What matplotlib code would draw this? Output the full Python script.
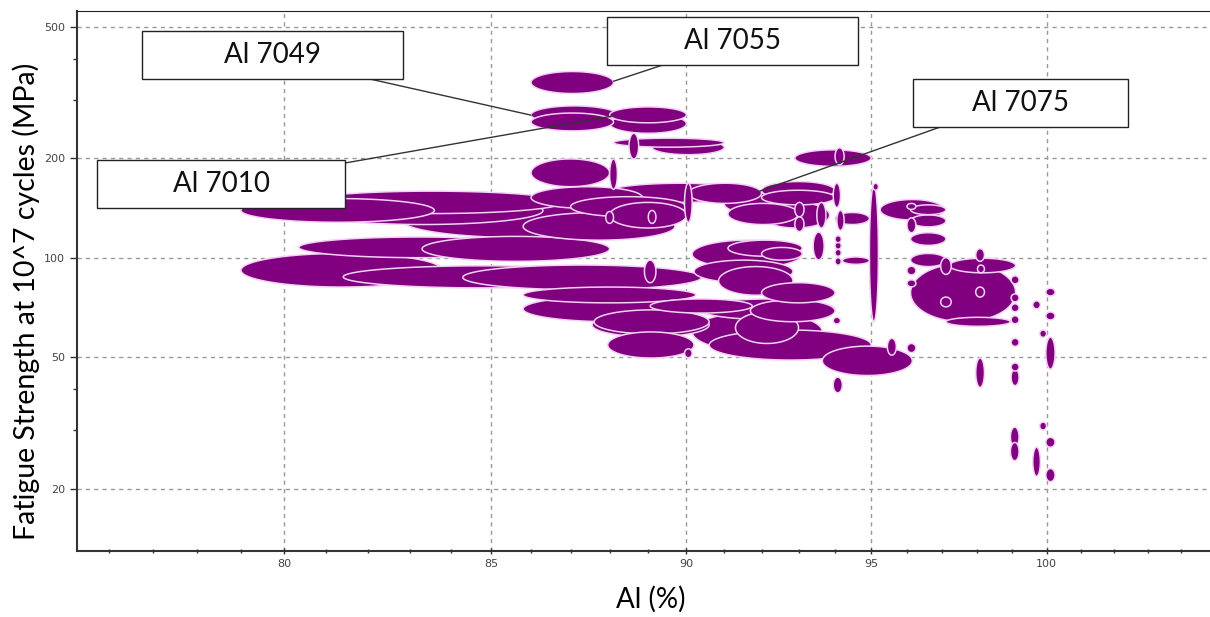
import numpy as np
import matplotlib
matplotlib.use('Agg')
import matplotlib.pyplot as plt
from matplotlib.patches import Rectangle

# material property ranges: Al content (%) and fatigue strength at 10^7 cycles (MPa)
al_lo = [86.0, 86.0, 86.0, 88.0, 88.0, 88.1, 89.1, 88.5, 86.0, 88.0, 92.9, 94.0,
         80.4, 79.0, 80.4, 82.8, 85.8, 86.0, 87.9, 87.0, 88.0, 87.9, 89.0, 89.95,
         90.05, 92.0, 91.0, 92.0, 91.1, 92.0, 92.9, 92.9, 93.5, 93.95, 94.05, 94.0,
         94.0, 94.0, 94.0, 94.0, 94.2, 94.95, 95.05, 95.25, 96.0, 96.1, 96.1, 96.0, 96.1,
         96.1, 96.1, 96.95, 97.2, 97.95, 98.0, 97.1, 96.95, 97.95, 96.0, 96.0,
         98.97, 98.97, 98.97, 98.97, 98.97, 98.97, 98.97, 99.6, 99.98, 99.98, 99.8,
         99.98, 97.95, 95.45, 96.0, 98.95, 98.95, 99.6, 99.98, 99.8, 99.98,
         93.65, 93.95, 93.95, 89.95,
         90.15, 91.1, 92.0, 93.4, 90.2, 90.85, 92.0, 90.35, 91.7, 90.15, 91.3, 90.6,
         80.35, 83.3, 79.0, 81.4, 84.3, 88.9, 85.8, 85.8, 87.55, 87.6, 87.95, 89.05]
al_hi = [88.1, 88.2, 88.1, 90.0, 90.0, 91.0, 91.0, 88.75, 88.0, 88.2, 95.0, 94.25,
         86.8, 83.6, 86.3, 88.85, 89.7, 88.85, 91.8, 90.0, 90.0, 88.1, 89.2, 90.15,
         92.0, 94.0, 93.0, 94.0, 93.0, 93.85, 93.15, 93.15, 93.75, 94.15, 94.25, 94.95,
         94.17, 94.17, 94.17, 94.17, 94.95, 95.2, 95.2, 97.05, 96.25, 97.1, 97.1, 96.25, 97.1,
         99.1, 97.1, 97.25, 99.1, 98.2, 98.2, 98.95, 97.25, 98.2, 96.25, 96.25,
         99.2, 99.2, 99.2, 99.2, 99.2, 99.2, 99.2, 99.82, 100.25, 100.25, 100.0,
         100.25, 98.2, 95.7, 96.25, 99.2, 99.2, 99.82, 100.25, 100.0, 100.25,
         96.15, 94.15, 94.2, 90.15,
         93.1, 93.1, 93.1, 93.7, 92.85, 92.85, 94.0, 94.0, 94.0, 93.65, 93.0, 95.0,
         86.2, 88.0, 83.8, 88.35, 90.4, 89.2, 90.25, 90.4, 90.6, 90.6, 90.2, 91.75]
fs_lo = [314, 254, 242, 256, 238, 216, 205, 199, 164, 161, 189, 191,
         136, 128, 126, 115, 113, 141, 147, 133, 123, 127, 127, 128,
         146, 150, 135, 144.5, 126, 123, 133, 120, 123, 142, 121, 126,
         111, 106, 101, 95, 95.5, 64, 160, 130, 140, 135, 124, 119, 109,
         64, 94, 89, 90, 97.5, 90, 62, 71, 76, 88.7, 81.6,
         83.3, 73.5, 68.6, 63.1, 53.9, 45.4, 41, 70, 76.6, 64.8, 57.4,
         46, 40.5, 50.7, 51.6, 26.8, 24.3, 21.8, 26.7, 30.1, 21.0,
         44, 63, 39, 49.8,
         93, 101, 98.3, 98.5, 84, 77, 73, 65, 64, 52, 55, 49,
         100, 97.5, 81.5, 81, 80, 84, 73, 64, 57.6, 58.8, 49.7, 68]
fs_hi = [366, 288, 274, 286, 272, 230, 227, 238, 199, 199, 212, 215,
         159, 151, 153, 147, 137, 164, 168, 153, 147, 138, 139, 168,
         168, 170, 157, 160, 146, 147, 147, 133, 147, 168, 139, 137,
         116.5, 111.5, 106, 100, 100.5, 166, 168, 150, 146, 144.5, 134.7, 132, 119,
         96, 103, 100, 99.6, 106.5, 95, 66, 76, 81.5, 94.2, 85.7,
         88.1, 77.7, 72.5, 66.7, 57, 48.0, 46, 74, 80.8, 68.5, 60.4,
         57.5, 49.7, 57, 55, 30.7, 27.6, 26.7, 28.6, 31.8, 23.0,
         54, 66, 43.5, 53,
         113, 113, 107.4, 119.5, 98.3, 94, 84, 75, 74.5, 68.5, 68.5, 60.4,
         115.5, 116, 103, 94.5, 95, 98.3, 81.5, 76.5, 68, 69.5, 59.6, 75]

labels = ['Al 7049', 'Al 7055', 'Al 7010', 'Al 7075']
label_al = [86.0, 88.1, 88.05, 91.95]
label_fs = [270, 342, 268, 159]

x_major = [80, 85, 90, 95, 100]
y_major = [20, 50, 100, 200, 500]
y_minor = [30, 40, 300, 400]

fig = plt.figure(figsize=(12.1, 6.17), dpi=100)
ax = fig.add_axes([77 / 1210, 1 - 551 / 617, 1133 / 1210, 540 / 617])
ax.set_xscale('log')
ax.set_yscale('log')
ax.set_xlim(75.3, 104.9)
ax.set_ylim(12.95, 558)

# ellipses are drawn in log space so they look like the bubble plot
t = np.linspace(0, 2 * np.pi, 120)
lx0, lx1 = np.log(al_lo), np.log(al_hi)
ly0, ly1 = np.log(fs_lo), np.log(fs_hi)
area = (lx1 - lx0) * (ly1 - ly0)
for i in np.argsort(-area):
    cx, rx = (lx0[i] + lx1[i]) / 2, (lx1[i] - lx0[i]) / 2
    cy, ry = (ly0[i] + ly1[i]) / 2, (ly1[i] - ly0[i]) / 2
    ax.fill(np.exp(cx + rx * np.cos(t)), np.exp(cy + ry * np.sin(t)),
            fc='#800080', ec='#f3d2f3', lw=1.1, zorder=2)

ax.set_xticks(x_major)
ax.set_xticklabels([str(v) for v in x_major])
ax.set_xticks([v for v in range(76, 105) if v % 5 != 0], minor=True)
ax.xaxis.set_minor_formatter(plt.NullFormatter())
ax.set_yticks(y_major)
ax.set_yticklabels([str(v) for v in y_major])
ax.set_yticks(y_minor, minor=True)
ax.yaxis.set_minor_formatter(plt.NullFormatter())

ax.tick_params(axis='both', which='major', labelsize=8, labelcolor='#444444',
               color='#333333', length=5, width=1)
ax.tick_params(axis='both', which='minor', color='#333333', length=3, width=1)
ax.tick_params(axis='x', which='both', direction='inout')

ax.set_axisbelow(True)
ax.grid(which='major', ls=(0, (3, 3)), color='#999999', lw=1)

for s in ['left', 'bottom']:
    ax.spines[s].set_color('#333333')
    ax.spines[s].set_linewidth(1.5)
ax.spines['top'].set_color('#222222')
ax.spines['right'].set_visible(False)

ax.set_ylabel('Fatigue Strength at 10^7 cycles (MPa)', fontsize=20.5, family='Lato')
ax.yaxis.set_label_coords(-0.033, 0.463)
ax.set_xlabel('Al (%)', fontsize=20, family='Lato')
ax.xaxis.set_label_coords(0.506, -0.064)

# label boxes (axes fraction) and the point on the box the leader starts from
boxes = [(0.0574, 0.874, 0.2303, 0.089), (0.4678, 0.900, 0.2215, 0.089),
         (0.0177, 0.635, 0.2188, 0.089), (0.7379, 0.785, 0.1898, 0.089)]
leader_start = [(0.2586, 0.874), (0.517, 0.900), (0.2365, 0.7185), (0.7617, 0.785)]

for lab, bx, st, xa, ya in zip(labels, boxes, leader_start, label_al, label_fs):
    ax.annotate('', xy=(xa, ya), xycoords='data', xytext=st, textcoords='axes fraction',
                arrowprops=dict(arrowstyle='-', color='#333333', lw=1,
                                shrinkA=0, shrinkB=0), zorder=4)
    ax.add_patch(Rectangle((bx[0], bx[1]), bx[2], bx[3], transform=ax.transAxes,
                           fc='white', ec='#222222', lw=1, zorder=5, clip_on=False))
    ax.text(bx[0] + bx[2] / 2, bx[1] + bx[3] / 2, lab, transform=ax.transAxes,
            ha='center', va='center', fontsize=20, family='Lato', color='#111111', zorder=6)

fig.savefig('out.png', dpi=100)
